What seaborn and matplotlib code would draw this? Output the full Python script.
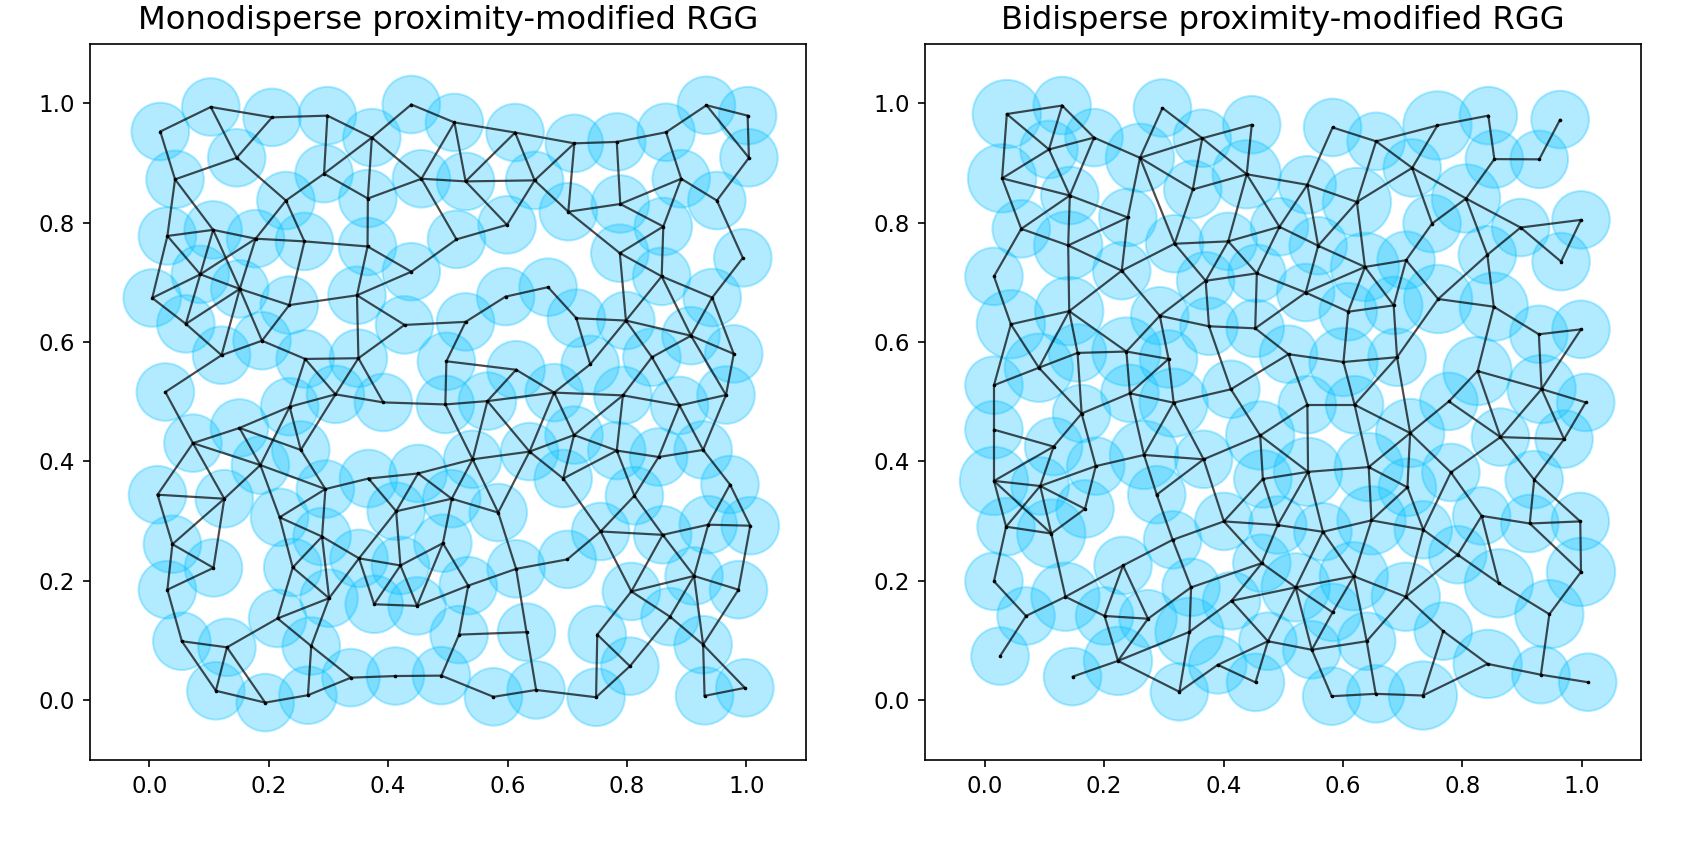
import numpy as np
import pandas as pd
import matplotlib
matplotlib.use("Agg")
import matplotlib.pyplot as plt
import seaborn as sns

# ---------------- Monodisperse graph ----------------
mono_x = [0.0185, 0.1031, 0.2057, 0.2983, 0.3728, 0.4389, 0.4558, 0.1465, 0.0432, 0.2928,
          0.3661, 0.2289, 0.0304, 0.1070, 0.1781, 0.2599, 0.3656, 0.0855, 0.4389, 0.1516,
          0.0050, 0.3479, 0.2345, 0.0613, 0.4275, 0.1888, 0.1211, 0.2611, 0.3503, 0.5111,
          0.6127, 0.7119, 0.7830, 0.8655, 0.9332, 1.0021, 1.0043, 0.5298, 0.6454, 0.8909,
          0.9506, 0.7018, 0.7888, 0.5992, 0.8609, 0.5145, 0.7881, 0.9941, 0.8582, 0.9428,
          0.5968, 0.6679, 0.5298, 0.7153, 0.7983, 0.9073, 0.9789, 0.4976, 0.6144, 0.7385,
          0.8418, 0.0270, 0.2352, 0.3119, 0.3920, 0.1511, 0.0732, 0.2538, 0.1861, 0.0139,
          0.1257, 0.2950, 0.3672, 0.4502, 0.2183, 0.4135, 0.2894, 0.0388, 0.3513, 0.2403,
          0.1076, 0.4207, 0.0304, 0.3012, 0.3767, 0.4485, 0.2149, 0.0546, 0.1302, 0.2713,
          0.3378, 0.4123, 0.1116, 0.4959, 0.5663, 0.6781, 0.7932, 0.8880, 0.9659, 0.7114,
          0.7830, 0.8531, 0.9276, 0.5416, 0.6369, 0.6933, 0.5066, 0.5844, 0.8125, 0.9726,
          0.4918, 0.7559, 0.8599, 0.9361, 1.0065, 0.7001, 0.6144, 0.5342, 0.9124, 0.9868,
          0.8074, 0.8722, 0.5189, 0.6318, 0.7503, 0.9276, 0.8050, 0.4893, 0.9975, 0.6479,
          0.1942, 0.2658, 0.5765, 0.7483, 0.9300]
mono_y = [0.9526, 0.9937, 0.9763, 0.9792, 0.9424, 0.9978, 0.8735, 0.9086, 0.8725, 0.8820,
          0.8404, 0.8370, 0.7777, 0.7879, 0.7731, 0.7686, 0.7601, 0.7134, 0.7178, 0.6890,
          0.6738, 0.6783, 0.6619, 0.6304, 0.6287, 0.6022, 0.5780, 0.5717, 0.5729, 0.9678,
          0.9509, 0.9328, 0.9352, 0.9514, 0.9966, 0.9792, 0.9086, 0.8691, 0.8708, 0.8735,
          0.8370, 0.8183, 0.8312, 0.7963, 0.7935, 0.7720, 0.7489, 0.7410, 0.7100, 0.6745,
          0.6761, 0.6919, 0.6338, 0.6399, 0.6360, 0.6106, 0.5802, 0.5678, 0.5536, 0.5627,
          0.5746, 0.5163, 0.4916, 0.5124, 0.4989, 0.4561, 0.4307, 0.4193, 0.3939, 0.3443,
          0.3376, 0.3538, 0.3714, 0.3799, 0.3064, 0.3166, 0.2742, 0.2614, 0.2377, 0.2224,
          0.2218, 0.2258, 0.1852, 0.1710, 0.1608, 0.1581, 0.1371, 0.0989, 0.0887, 0.0909,
          0.0379, 0.0406, 0.0159, 0.4955, 0.5011, 0.5153, 0.5107, 0.4938, 0.5113, 0.4442,
          0.4182, 0.4075, 0.4193, 0.4036, 0.4165, 0.3714, 0.3376, 0.3144, 0.3426, 0.3613,
          0.2631, 0.2827, 0.2771, 0.2941, 0.2924, 0.2360, 0.2201, 0.1920, 0.2082, 0.1852,
          0.1823, 0.1400, 0.1100, 0.1141, 0.1100, 0.0931, 0.0571, 0.0413, 0.0208, 0.0173,
          -0.0039, 0.0085, 0.0058, 0.0051, 0.0074]
mono_edges = [
    (0, 1), (1, 2), (2, 3), (3, 4), (4, 5), (0, 8), (1, 7), (2, 7), (7, 8), (7, 11),
    (3, 9), (9, 4), (4, 10), (9, 10), (4, 6), (10, 6), (9, 11), (11, 14), (11, 15), (8, 13),
    (8, 12), (12, 13), (12, 17), (13, 14), (13, 17), (13, 19), (14, 15), (14, 17), (14, 19),
    (15, 16), (16, 10), (15, 22), (16, 18), (16, 21), (17, 20), (17, 23), (12, 20), (20, 23),
    (17, 19), (19, 22), (19, 23), (19, 26), (19, 25), (21, 22), (21, 18), (21, 24), (21, 28),
    (22, 25), (25, 26), (25, 27), (27, 28), (28, 24), (23, 26),
    (5, 29), (29, 30), (30, 31), (31, 32), (32, 33), (33, 34), (34, 35), (35, 36), (34, 36),
    (29, 37), (29, 6), (6, 37), (37, 30), (37, 38), (37, 43), (6, 45), (30, 38), (38, 31),
    (38, 43), (38, 41), (31, 41), (41, 42), (32, 42), (42, 39), (33, 39), (39, 40), (40, 36),
    (39, 44), (42, 44), (41, 46), (44, 46), (44, 48), (46, 48), (46, 54), (45, 43), (18, 45),
    (48, 49), (40, 47), (47, 49), (48, 54), (48, 55), (49, 55), (49, 56), (50, 51), (50, 52),
    (51, 53), (53, 54), (53, 59), (54, 59), (54, 60), (54, 55), (55, 60), (55, 56), (24, 52),
    (52, 57), (57, 58),
    (26, 61), (27, 62), (27, 63), (28, 63), (28, 64), (61, 66), (66, 65), (65, 62), (62, 63),
    (63, 64), (64, 93), (62, 68), (62, 67), (65, 68), (65, 67), (63, 67), (66, 68), (66, 69),
    (66, 70), (68, 70), (68, 74), (67, 71), (68, 71), (74, 71), (69, 70), (69, 77), (70, 77),
    (70, 80), (77, 80), (77, 82), (80, 82), (74, 76), (74, 79), (71, 76), (71, 72), (72, 73),
    (72, 75), (73, 75), (76, 79), (76, 78), (76, 83), (79, 83), (79, 86), (78, 75), (78, 83),
    (78, 84), (78, 81), (75, 81), (81, 84), (81, 85), (84, 85), (83, 86), (83, 89), (86, 88),
    (86, 89), (82, 87), (87, 88), (87, 92), (88, 92), (88, 130), (89, 131), (89, 90), (90, 91),
    (73, 103), (73, 106), (75, 106), (81, 110), (85, 110), (85, 117), (91, 127),
    (57, 93), (58, 94), (58, 95), (59, 95), (60, 96), (60, 97), (56, 98), (55, 98), (93, 94),
    (94, 95), (95, 96), (96, 97), (97, 98), (93, 103), (94, 103), (94, 104), (95, 104),
    (95, 99), (96, 99), (96, 100), (97, 101), (97, 102), (98, 102), (99, 104), (99, 100),
    (99, 105), (100, 105), (100, 101), (101, 102), (100, 108), (101, 108), (102, 109),
    (103, 104), (103, 106), (103, 107), (104, 105), (104, 107), (106, 107), (106, 110),
    (107, 116), (105, 111), (108, 111), (108, 112), (111, 112), (112, 113), (113, 114),
    (109, 113), (109, 114), (111, 120), (112, 120), (112, 118), (113, 118), (114, 119),
    (118, 119), (118, 120), (120, 121), (118, 121), (118, 125), (121, 125), (125, 128),
    (119, 125), (121, 126), (126, 124), (110, 117), (117, 116), (116, 115), (115, 111),
    (116, 123), (123, 129), (117, 122), (122, 123), (122, 127), (124, 133), (125, 134),
    (134, 128), (126, 133), (127, 132), (132, 129), (129, 133), (120, 124),
    (92, 130), (130, 131), (131, 90)]

# ---------------- Bidisperse graph ----------------
bi_x = [0.0371, 0.1297, 0.1077, 0.1832, 0.0292, 0.1426, 0.2601, 0.2978, 0.3644, 0.3486,
        0.0613, 0.2398, 0.1399, 0.3181, 0.0156, 0.2296, 0.3701, 0.1416, 0.0439, 0.2933,
        0.3757, 0.1556, 0.2374, 0.0908, 0.3080, 0.4473, 0.4389, 0.5827, 0.6555, 0.7583,
        0.8435, 0.8536, 0.7160, 0.5404, 0.6234, 0.8062, 0.7493, 0.4937, 0.4079, 0.5585,
        0.8976, 0.6369, 0.7058, 0.8418, 0.4558, 0.5377, 0.7595, 0.8526, 0.6088, 0.6850,
        0.4531, 0.5089, 0.6009, 0.6906, 0.8255, 0.9637, 0.9288, 0.9987, 0.9653, 0.9281,
        0.9987, 0.9327, 1.0066, 0.9704, 0.9203, 0.9129, 0.9975, 0.9987, 0.9457, 0.9315,
        1.0100, 0.0156, 0.1624, 0.2432, 0.3165, 0.0156, 0.1155, 0.1861, 0.2669, 0.3667,
        0.0156, 0.0930, 0.2882, 0.1680, 0.0359, 0.1116, 0.3148, 0.0156, 0.2318, 0.1353,
        0.3457, 0.0693, 0.2008, 0.2736, 0.3430, 0.0258, 0.2233, 0.1472, 0.3261, 0.4124,
        0.5404, 0.6195, 0.7774, 0.7126, 0.8638, 0.4615, 0.6432, 0.5416, 0.4659, 0.7080,
        0.7808, 0.8323, 0.4006, 0.4908, 0.5665, 0.6478, 0.7346, 0.7922, 0.4642, 0.6183,
        0.8611, 0.5208, 0.4135, 0.7053, 0.5827, 0.4744, 0.5479, 0.6398, 0.7680, 0.8424,
        0.3904, 0.4536, 0.5811, 0.6549, 0.7339]
bi_y = [0.9819, 0.9961, 0.9226, 0.9424, 0.8742, 0.8454, 0.9086, 0.9920, 0.9413, 0.8556,
        0.7896, 0.8087, 0.7618, 0.7647, 0.7100, 0.7195, 0.7026, 0.6518, 0.6298, 0.6440,
        0.6264, 0.5818, 0.5841, 0.5570, 0.5717, 0.9639, 0.8810, 0.9594, 0.9362, 0.9628,
        0.9792, 0.9064, 0.8917, 0.8634, 0.8346, 0.8404, 0.7985, 0.7930, 0.7686, 0.7613,
        0.7918, 0.7258, 0.7371, 0.7461, 0.7151, 0.6829, 0.6721, 0.6592, 0.6508, 0.6614,
        0.6230, 0.5796, 0.5666, 0.5746, 0.5514, 0.9726, 0.9060, 0.8046, 0.7347, 0.6130,
        0.6213, 0.5212, 0.4989, 0.4374, 0.3696, 0.2961, 0.2996, 0.2150, 0.1442, 0.0428,
        0.0303, 0.5277, 0.4803, 0.5141, 0.4984, 0.4532, 0.4249, 0.3922, 0.4109, 0.4036,
        0.3674, 0.3589, 0.3443, 0.3206, 0.2907, 0.2793, 0.2687, 0.1993, 0.2258, 0.1734,
        0.1891, 0.1412, 0.1412, 0.1366, 0.1146, 0.0740, 0.0660, 0.0396, 0.0142, 0.5209,
        0.4950, 0.4950, 0.5006, 0.4476, 0.4408, 0.4435, 0.3906, 0.3826, 0.3707, 0.3567,
        0.3816, 0.3088, 0.2996, 0.2935, 0.2822, 0.3013, 0.2856, 0.2438, 0.2297, 0.2077,
        0.1959, 0.1891, 0.1666, 0.1734, 0.1473, 0.0989, 0.0846, 0.0989, 0.1158, 0.0609,
        0.0593, 0.0300, 0.0068, 0.0108, 0.0080]
bi_large = {0, 4, 6, 12, 17, 18, 22, 23, 26, 29, 34, 35, 41, 46, 47, 52, 54, 61, 67, 68,
            74, 78, 80, 85, 89, 94, 96, 103, 105, 106, 107, 115, 119, 120, 121, 123, 129, 134}
bi_kind = ["large" if i in bi_large else "small" for i in range(len(bi_x))]
bi_edges = [
    (0, 1), (0, 4), (0, 2), (1, 2), (1, 3), (2, 3), (2, 4), (2, 5), (3, 5), (3, 6), (6, 7),
    (7, 8), (6, 8), (6, 9), (8, 9), (4, 5), (5, 11), (4, 10), (5, 10), (5, 12), (10, 12),
    (11, 12), (11, 6), (11, 15), (9, 13), (6, 13), (13, 15), (13, 16), (12, 15), (12, 17),
    (10, 14), (14, 18), (18, 17), (15, 17), (15, 19), (17, 22), (17, 21), (17, 23), (18, 23),
    (21, 22), (23, 21), (19, 16), (19, 20), (19, 24), (19, 22), (22, 24), (13, 38), (8, 25),
    (8, 26), (25, 26), (9, 26), (26, 33), (26, 38), (26, 37), (27, 28), (28, 29), (29, 30),
    (30, 31), (31, 35), (29, 32), (28, 32), (28, 34), (32, 34), (32, 36), (32, 35), (27, 33),
    (33, 34), (33, 37), (33, 39), (34, 39), (35, 36), (35, 43), (35, 40), (40, 43), (36, 42),
    (39, 41), (34, 41), (41, 42), (42, 46), (43, 46), (43, 47), (46, 47), (46, 53), (41, 49),
    (42, 49), (49, 48), (41, 48), (41, 45), (39, 45), (37, 39), (37, 38), (37, 44), (38, 44),
    (38, 16), (16, 44), (44, 45), (44, 50), (16, 20), (20, 50), (45, 50), (45, 48), (48, 52),
    (49, 53), (52, 53), (51, 52), (50, 51), (47, 54), (31, 56), (55, 56), (40, 57), (57, 58),
    (40, 58), (47, 59), (59, 60), (59, 61), (60, 61), (61, 62), (62, 63), (61, 63), (63, 64),
    (64, 65), (64, 66), (65, 66), (65, 67), (66, 67), (67, 68), (68, 69), (69, 70), (54, 61),
    (18, 71), (23, 71), (23, 72), (21, 72), (72, 73), (22, 73), (24, 73), (24, 74), (73, 74),
    (74, 99), (74, 78), (74, 79), (72, 76), (72, 77), (73, 78), (75, 76), (75, 71), (75, 80),
    (76, 81), (76, 80), (80, 81), (77, 81), (77, 78), (78, 79), (78, 82), (79, 82), (77, 83),
    (80, 84), (80, 85), (81, 84), (81, 85), (81, 83), (83, 85), (82, 86), (84, 85), (84, 87),
    (85, 89), (86, 88), (86, 112), (86, 90), (87, 91), (91, 89), (89, 88), (89, 92), (88, 92),
    (88, 93), (92, 93), (93, 90), (90, 94), (92, 96), (93, 96), (96, 94), (94, 98), (96, 98),
    (97, 96), (91, 95), (90, 118), (94, 122), (98, 130), (79, 105), (79, 112),
    (99, 20), (99, 51), (99, 105), (100, 101), (100, 105), (100, 107), (100, 51), (101, 52),
    (101, 53), (53, 103), (101, 106), (101, 103), (103, 102), (102, 54), (54, 104), (102, 104),
    (104, 61), (104, 63), (104, 64), (103, 106), (103, 109), (103, 110), (104, 110), (106, 107),
    (106, 109), (106, 115), (105, 107), (105, 108), (107, 108), (107, 113), (107, 114),
    (108, 113), (108, 112), (109, 115), (109, 116), (110, 116), (110, 111), (111, 65),
    (111, 117), (111, 120), (116, 117), (117, 120), (116, 123), (117, 123), (115, 114),
    (115, 119), (115, 116), (114, 113), (114, 119), (114, 121), (113, 118), (112, 113),
    (112, 118), (118, 121), (118, 122), (121, 119), (121, 122), (121, 125), (121, 124),
    (121, 126), (119, 124), (119, 127), (119, 123), (123, 127), (123, 128), (120, 68),
    (122, 125), (125, 126), (126, 127), (124, 126), (125, 131), (125, 130), (130, 131),
    (128, 129), (129, 69), (126, 132), (132, 133), (127, 133), (133, 134), (128, 134),
    (134, 129)]

titles = ["Monodisperse proximity-modified RGG", "Bidisperse proximity-modified RGG"]
tick_values = [0.0, 0.2, 0.4, 0.6, 0.8, 1.0]

# ---------------- styling ----------------
sns.set_style("ticks", {"axes.edgecolor": "black", "xtick.color": "black",
                        "ytick.color": "black", "text.color": "black",
                        "axes.labelcolor": "black"})
plt.rcParams["font.family"] = ["DejaVu Sans"]

DPI = 150
fig = plt.figure(figsize=(1686 / DPI, 850 / DPI), dpi=DPI)
ax_l = fig.add_axes([0.0531, 0.1059, 0.4250, 0.8429])
ax_r = fig.add_axes([0.5486, 0.1059, 0.4250, 0.8429])

NODE_COLOR = "deepskyblue"
DIAM = {"small": 0.1, "large": 0.118}   # circle diameter in data units
RING_LW = 1.0


def marker_area(ax, diam):
    pts_per_unit = ax.bbox.width / 1.2 * 72.0 / DPI
    return (diam * pts_per_unit - RING_LW) ** 2


def draw(ax, xs, ys, edges, kinds, title):
    ax.set_xlim(-0.1, 1.1)
    ax.set_ylim(-0.1, 1.1)
    nodes = pd.DataFrame({"x": xs, "y": ys, "kind": kinds})
    sizes = {k: marker_area(ax, d) for k, d in DIAM.items()}
    sns.scatterplot(data=nodes, x="x", y="y", size="kind", sizes=sizes,
                    color=NODE_COLOR, alpha=0.3, edgecolor=NODE_COLOR,
                    linewidth=RING_LW, legend=False, ax=ax, zorder=1)
    rows = []
    for k, (a, b) in enumerate(edges):
        rows.append((k, xs[a], ys[a]))
        rows.append((k, xs[b], ys[b]))
    ed = pd.DataFrame(rows, columns=["edge", "x", "y"])
    sns.lineplot(data=ed, x="x", y="y", units="edge", estimator=None, sort=False,
                 color="black", alpha=0.7, linewidth=1.05, ax=ax, zorder=2)
    sns.scatterplot(data=nodes, x="x", y="y", s=3, color="black", linewidth=0,
                    legend=False, ax=ax, zorder=3)
    ax.set_xlim(-0.1, 1.1)
    ax.set_ylim(-0.1, 1.1)
    ax.set_xticks(tick_values)
    ax.set_yticks(tick_values)
    ax.set_xticklabels([f"{v:.1f}" for v in tick_values])
    ax.set_yticklabels([f"{v:.1f}" for v in tick_values])
    ax.tick_params(labelsize=11, length=3.5, width=0.8, direction="out")
    ax.set_xlabel("")
    ax.set_ylabel("")
    for sp in ax.spines.values():
        sp.set_visible(True)
        sp.set_linewidth(0.8)
    ax.set_title(title, fontsize=15.5, pad=7)


draw(ax_l, mono_x, mono_y, mono_edges, ["small"] * len(mono_x), titles[0])
draw(ax_r, bi_x, bi_y, bi_edges, bi_kind, titles[1])

fig.savefig("out.png", dpi=DPI)
